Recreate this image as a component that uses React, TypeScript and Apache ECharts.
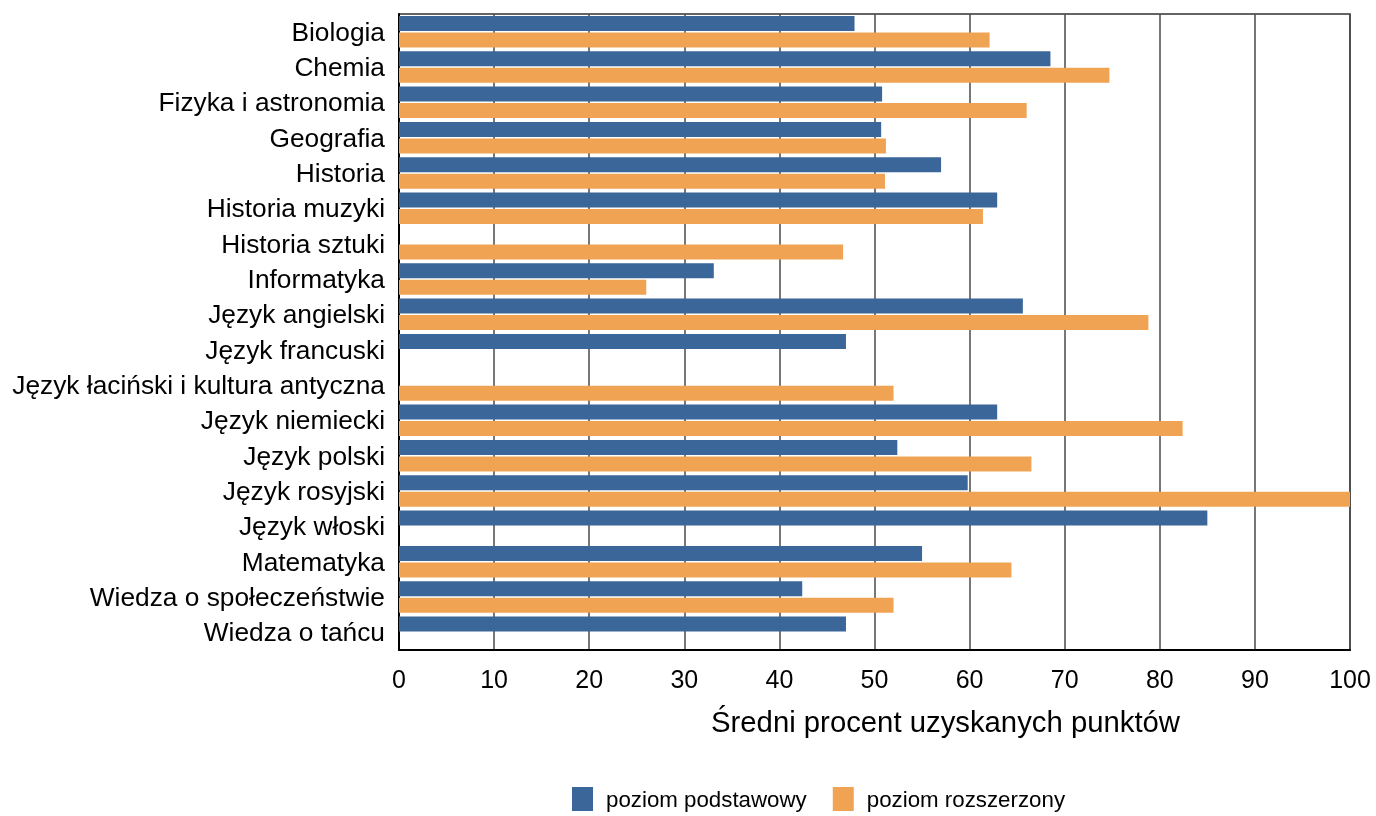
import React, { useEffect, useRef } from "react";
import * as echarts from "echarts";

const categories = [
  "Biologia",
  "Chemia",
  "Fizyka i astronomia",
  "Geografia",
  "Historia",
  "Historia muzyki",
  "Historia sztuki",
  "Informatyka",
  "Język angielski",
  "Język francuski",
  "Język łaciński i kultura antyczna",
  "Język niemiecki",
  "Język polski",
  "Język rosyjski",
  "Język włoski",
  "Matematyka",
  "Wiedza o społeczeństwie",
  "Wiedza o tańcu",
];

const basicLevel = [47.9, 68.5, 50.8, 50.7, 57.0, 62.9, null, 33.1, 65.6, 47.0, null, 62.9, 52.4, 59.8, 85.0, 55.0, 42.4, 47.0];
const extendedLevel = [62.1, 74.7, 66.0, 51.2, 51.1, 61.4, 46.7, 26.0, 78.8, null, 52.0, 82.4, 66.5, 100, null, 64.4, 52.0, null];

const seriesNames = ["poziom podstawowy", "poziom rozszerzony"];
const axisTitle = "Średni procent uzyskanych punktów";

const FONT = "'Liberation Sans', Arial, sans-serif";
const BLUE = "#3b6699";
const ORANGE = "#f0a352";

export default function App() {
  const ref = useRef<HTMLDivElement>(null);
  useEffect(() => {
    if (!ref.current) return;
    const chart = echarts.init(ref.current, null, { renderer: "svg" });
    chart.setOption({
      animation: false,
      textStyle: { fontFamily: FONT, color: "#000" },
      title: {
        text: axisTitle,
        left: 711,
        top: 707,
        padding: 0,
        textStyle: { fontFamily: FONT, fontSize: 29.3, fontWeight: "normal", color: "#000" },
      },
      legend: {
        data: seriesNames,
        left: 572,
        top: 787,
        padding: 0,
        itemWidth: 21,
        itemHeight: 24,
        itemGap: 26,
        icon: "rect",
        textStyle: { fontFamily: FONT, fontSize: 22.3, color: "#000", padding: [0, 0, 0, 8] },
      },
      grid: {
        left: 399,
        right: 26,
        top: 14,
        bottom: 166,
        show: true,
        borderColor: "#333",
        borderWidth: 1.5,
        containLabel: false,
      },
      xAxis: {
        type: "value",
        min: 0,
        max: 100,
        interval: 10,
        axisLine: { show: true, lineStyle: { color: "#000", width: 2 } },
        axisTick: { show: false },
        axisLabel: { fontFamily: FONT, fontSize: 25, color: "#000", margin: 16 },
        splitLine: { show: true, lineStyle: { color: "#4a4a4a", width: 1.5 } },
      },
      yAxis: {
        type: "category",
        data: categories,
        inverse: true,
        axisLine: { show: true, lineStyle: { color: "#000", width: 2 } },
        axisTick: { show: false },
        axisLabel: { fontFamily: FONT, fontSize: 26.3, color: "#000", margin: 14 },
        splitLine: { show: false },
      },
      series: [
        {
          name: seriesNames[0],
          type: "bar",
          data: basicLevel,
          barWidth: 15,
          barGap: "10%",
          itemStyle: { color: BLUE },
        },
        {
          name: seriesNames[1],
          type: "bar",
          data: extendedLevel,
          barWidth: 15,
          barGap: "10%",
          itemStyle: { color: ORANGE },
        },
      ],
    });
    return () => chart.dispose();
  }, []);
  return (
    <div
      ref={ref}
      style={{ position: "fixed", left: 0, top: 0, width: 1376, height: 816 }}
    />
  );
}
